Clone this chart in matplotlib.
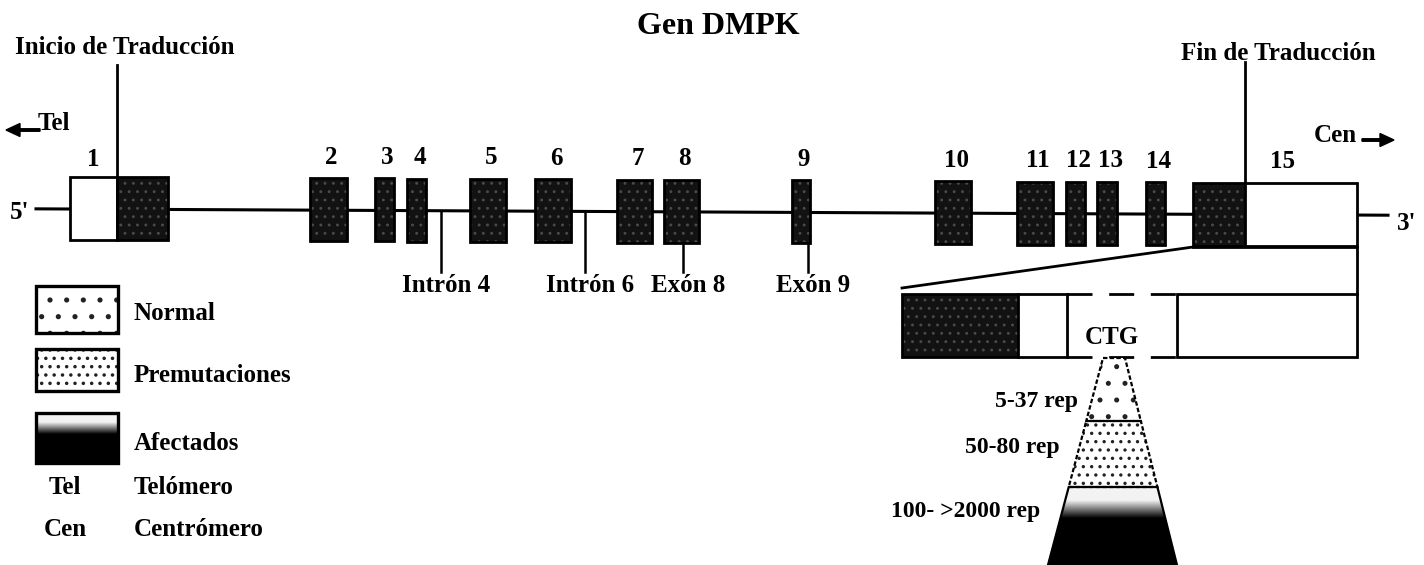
import numpy as np
import matplotlib
matplotlib.use("Agg")
import matplotlib.pyplot as plt
from matplotlib.patches import Rectangle, Polygon, FancyArrow

# ─── Datos del esquema (coordenadas del dibujo) ───────────────────────────────
exon_ids = ["1", "2", "3", "4", "5", "6", "7", "8", "9", "10",
            "11", "12", "13", "14", "15"]
exon_start = [70, 310, 375, 407, 470, 535, 617, 664, 792, 935,
              1017, 1066, 1097, 1146, 1193]
exon_end = [168, 347, 394, 426, 506, 571, 652, 699, 810, 971,
            1053, 1085, 1117, 1165, 1357]
utr5_end = 117      # inicio de traducción
utr3_start = 1245   # fin de traducción

marker_labels = ["Intrón 4", "Intrón 6", "Exón 8", "Exón 9"]
marker_x = [441, 585, 683, 808]

repeat_labels = ["5-37 rep", "50-80 rep", "100- >2000 rep"]
legend_labels = ["Normal", "Premutaciones", "Afectados"]
abbr = ["Tel", "Cen"]
abbr_meaning = ["Telómero", "Centrómero"]

FONT = dict(family="Liberation Serif", weight="bold", color="black")
DARK = "#121212"
FS = 18


def y_line(x):
    # la línea del gen está ligeramente inclinada en el original
    return 209 + 0.0047 * (x - 70)


def dark_box(ax, x0, y0, w, h, lw=2.0):
    plt.rcParams["hatch.linewidth"] = 0.9
    ax.add_patch(Rectangle((x0, y0), w, h, fc=DARK, ec="#4a4a4a",
                           hatch="..", lw=0, zorder=3))
    ax.add_patch(Rectangle((x0, y0), w, h, fc="none", ec="black",
                           lw=lw, zorder=4))


def dotted_box(ax, x0, y0, w, h, hatch, lw=2.4):
    plt.rcParams["hatch.linewidth"] = 1.3
    ax.add_patch(Rectangle((x0, y0), w, h, fc="white", ec="#222222",
                           hatch=hatch, lw=0, zorder=3))
    ax.add_patch(Rectangle((x0, y0), w, h, fc="none", ec="black",
                           lw=lw, zorder=4))


def gradient_fill(ax, patch, y_top, y_white, y_black, y_bottom, x0, x1):
    ys = np.linspace(y_top, y_bottom, 200)
    vals = np.clip((ys - y_white) / (y_black - y_white), 0, 1)
    img = (1 - vals)[:, None] * np.ones((1, 10))
    im = ax.imshow(img, cmap="gray", vmin=0, vmax=1.05, aspect="auto",
                   extent=(x0, x1, y_bottom, y_top), zorder=2,
                   interpolation="bilinear")
    ax.add_patch(patch)
    im.set_clip_path(patch)


fig = plt.figure(figsize=(14.24, 5.65), dpi=100)
ax = fig.add_axes([0, 0, 1, 1])
ax.set_xlim(0, 1424)
ax.set_ylim(565, 0)
ax.axis("off")

# título
ax.text(718, 27, "Gen DMPK", fontsize=23, ha="center", va="center", **FONT)

# línea del gen
ax.plot([36, 1388], [y_line(36), y_line(1388)], color="black", lw=2.2,
        zorder=1)
ax.text(10, y_line(20) + 4, "5'", fontsize=FS, ha="left", va="center", **FONT)
ax.text(1397, y_line(1400) + 8, "3'", fontsize=FS, ha="left", va="center",
        **FONT)

# exones
for name, s, e in zip(exon_ids, exon_start, exon_end):
    yc = y_line((s + e) / 2)
    top, h = yc - 32, 63
    if name == "1":
        ax.add_patch(Rectangle((s, top), utr5_end - s, h, fc="white",
                               ec="black", lw=2.0, zorder=4))
        dark_box(ax, utr5_end, top, e - utr5_end, h)
        ax.text(93, top - 18, name, fontsize=FS, ha="center", va="center",
                **FONT)
    elif name == "15":
        dark_box(ax, s, top, utr3_start - s, h)
        ax.add_patch(Rectangle((utr3_start, top), e - utr3_start, h,
                               fc="white", ec="black", lw=2.0, zorder=4))
        ax.text(1283, top - 21, name, fontsize=FS, ha="center", va="center",
                **FONT)
    else:
        dark_box(ax, s, top, e - s, h)
        ax.text((s + e) / 2 + 3, top - 21, name, fontsize=FS, ha="center",
                va="center", **FONT)

# inicio / fin de traducción
ax.plot([utr5_end, utr5_end], [65, y_line(utr5_end) - 32], color="black",
        lw=2.0)
ax.text(125, 47, "Inicio de Traducción", fontsize=FS, ha="center",
        va="center", **FONT)
ax.plot([utr3_start, utr3_start], [62, y_line(1275) - 32], color="black",
        lw=2.0)
ax.text(1278, 54, "Fin de Traducción", fontsize=FS, ha="center",
        va="center", **FONT)

# Tel / Cen
ax.add_patch(FancyArrow(40, 130, -34, 0, width=2.5, head_width=13,
                        head_length=14, length_includes_head=True,
                        fc="black", ec="black"))
ax.text(38, 124, "Tel", fontsize=FS, ha="left", va="center", **FONT)
ax.text(1314, 136, "Cen", fontsize=FS, ha="left", va="center", **FONT)
ax.add_patch(FancyArrow(1362, 140, 32, 0, width=2.5, head_width=13,
                        head_length=14, length_includes_head=True,
                        fc="black", ec="black"))

# marcadores bajo el gen
for lab, mx in zip(marker_labels, marker_x):
    y0 = y_line(mx) if lab.startswith("Intr") else y_line(mx) + 30
    ax.plot([mx, mx], [y0, 272], color="black", lw=1.8)
    ax.text(mx + 5, 286, lab, fontsize=FS, ha="center", va="center", **FONT)

# ampliación del exón 15
ex_top, ex_bot = 294, 357
ax.plot([902, 1193], [288, 247], color="black", lw=2.0)
ax.plot([1193, 1357], [247, 247], color="black", lw=2.0)
ax.plot([1357, 1357], [247, ex_top], color="black", lw=2.0)
dark_box(ax, 902, ex_top, 1018 - 902, ex_bot - ex_top)
ax.plot([1018, 1067], [ex_top, ex_top], color="black", lw=2.0)
ax.plot([1018, 1067], [ex_bot, ex_bot], color="black", lw=2.0)
ax.plot([1067, 1067], [ex_top, ex_bot], color="black", lw=2.0)
for yy in (ex_top, ex_bot):
    ax.plot([1067, 1177], [yy, yy], color="black", lw=2.0,
            dashes=(9, 6), dash_capstyle="butt")
ax.add_patch(Rectangle((1177, ex_top), 1357 - 1177, ex_bot - ex_top,
                       fc="white", ec="black", lw=2.0, zorder=4))
ax.text(1112, 337, "CTG", fontsize=FS, ha="center", va="center", **FONT)


# embudo de repeticiones CTG
def fx(y, side):
    # bordes del embudo: de (1103,1125) en y=358 a (1048,1177) en y=565
    t = (y - 358) / (565 - 358)
    return 1103 + t * (1048 - 1103) if side == 0 else 1125 + t * (1177 - 1125)


bounds = [358, 421, 487, 565]
hatches = [".", ".."]
plt.rcParams["hatch.linewidth"] = 1.2
for i in range(2):
    ya, yb = bounds[i], bounds[i + 1]
    poly = [(fx(ya, 0), ya), (fx(ya, 1), ya), (fx(yb, 1), yb), (fx(yb, 0), yb)]
    ax.add_patch(Polygon(poly, closed=True, fc="white", ec="#222222",
                         hatch=hatches[i], lw=0, zorder=3))
    ax.add_patch(Polygon(poly, closed=True, fc="none", ec="black", lw=1.6,
                         ls=(0, (2, 1)), zorder=4))
ya, yb = bounds[2], bounds[3]
poly = Polygon([(fx(ya, 0), ya), (fx(ya, 1), ya), (fx(yb, 1), yb),
                (fx(yb, 0), yb)], closed=True, fc="none", ec="black", lw=1.6,
               zorder=4)
gradient_fill(ax, poly, ya, 500, 518, yb, 1040, 1185)

rep_x = [1078, 1060, 1040]
rep_y = [402, 447, 512]
for lab, rx, ry in zip(repeat_labels, rep_x, rep_y):
    ax.text(rx, ry, lab, fontsize=17, ha="right", va="center", **FONT)

# leyenda
dotted_box(ax, 36, 286, 82, 47, ".")
dotted_box(ax, 36, 349, 82, 42, "..")
leg = Rectangle((36, 413), 82, 50, fc="none", ec="black", lw=2.4, zorder=4)
gradient_fill(ax, leg, 413, 422, 434, 463, 36, 118)
leg_y = [313, 376, 443]
for lab, ly in zip(legend_labels, leg_y):
    ax.text(134, ly, lab, fontsize=FS, ha="left", va="center", **FONT)
for a, m, ly in zip(abbr, abbr_meaning, [488, 529]):
    ax.text(65, ly, a, fontsize=FS, ha="center", va="center", **FONT)
    ax.text(134, ly, m, fontsize=FS, ha="left", va="center", **FONT)

fig.savefig("out.png", dpi=100)
